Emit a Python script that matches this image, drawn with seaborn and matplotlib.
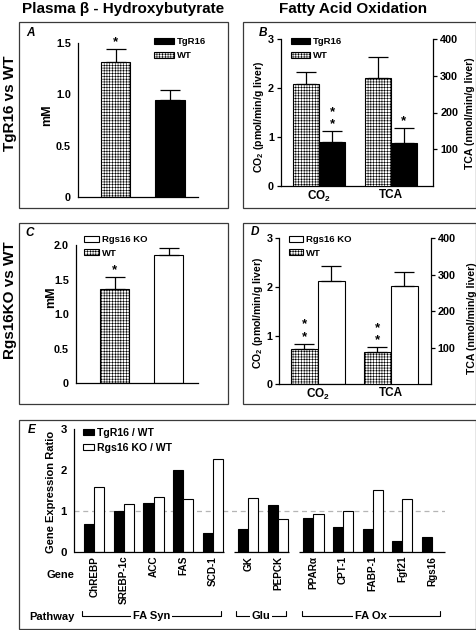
import numpy as np
import pandas as pd
import matplotlib
matplotlib.use("Agg")
import matplotlib.pyplot as plt
import matplotlib.transforms as mtransforms
from matplotlib.patches import Rectangle
import seaborn as sns

# ---------------- data ----------------
a_groups = ["WT", "TgR16"]
a_mean = [1.32, 0.95]
a_sem = [0.12, 0.09]
a_stars = [1, 0]
a_yticks = [0, 0.5, 1.0, 1.5]
a_yticklabels = ["0", "0.5", "1.0", "1.5"]

c_groups = ["WT", "Rgs16 KO"]
c_mean = [1.36, 1.86]
c_sem = [0.18, 0.10]
c_stars = [1, 0]
c_yticks = [0, 0.5, 1.0, 1.5, 2.0]
c_yticklabels = ["0", "0.5", "1.0", "1.5", "2.0"]

assays = ["CO2", "TCA"]
assay_labels = ["CO$_2$", "TCA"]
left_yticks = [0, 1, 2, 3]
right_yticks = [100, 200, 300, 400]

b_groups = ["WT", "TgR16"]
b_co2_mean = [2.08, 0.90]
b_co2_sem = [0.24, 0.22]
b_co2_stars = [0, 2]
b_tca_mean = [295, 118]
b_tca_sem = [55, 39]
b_tca_stars = [0, 1]

d_groups = ["WT", "Rgs16 KO"]
d_co2_mean = [0.73, 2.12]
d_co2_sem = [0.10, 0.32]
d_co2_stars = [2, 0]
d_tca_mean = [89, 268]
d_tca_sem = [12, 39]
d_tca_stars = [2, 0]

genes = ["ChREBP", "SREBP-1c", "ACC", "FAS", "SCD-1", "GK", "PEPCK",
         "PPARα", "CPT-1", "FABP-1", "Fgf21", "Rgs16"]
pathways = ["FA Syn"] * 5 + ["Glu"] * 2 + ["FA Ox"] * 5
pathway_order = ["FA Syn", "Glu", "FA Ox"]
tg_ratio = [0.69, 1.00, 1.19, 2.00, 0.47, 0.56, 1.15, 0.82, 0.60, 0.55, 0.27, 0.37]
ko_ratio = [1.58, 1.18, 1.34, 1.28, 2.26, 1.32, 0.79, 0.92, 0.99, 1.51, 1.29, np.nan]
e_series = ["TgR16 / WT", "Rgs16 KO / WT"]
e_yticks = [0, 1, 2, 3]

# ---------------- style ----------------
sns.set_theme(style="white")
plt.rcParams["font.family"] = ["Liberation Sans", "DejaVu Sans"]
plt.rcParams["mathtext.fontset"] = "custom"
plt.rcParams["mathtext.rm"] = "Liberation Sans:bold"
plt.rcParams["mathtext.bf"] = "Liberation Sans:bold"
plt.rcParams["mathtext.it"] = "Liberation Sans:bold:italic"
plt.rcParams["mathtext.default"] = "bf"
plt.rcParams["hatch.linewidth"] = 0.4
for k in ["text.color", "axes.labelcolor", "xtick.color", "ytick.color", "axes.edgecolor"]:
    plt.rcParams[k] = "black"

W, H = 477, 630
fig = plt.figure(figsize=(W / 100, H / 100), dpi=100)

HATCH = "++++++"
BAR_LW = 0.8
TICK_FS = 7.8
LEG_FS = 6.8


def fx(x):
    return x / W


def fy(y):
    return 1 - y / H


def px_axes(x0, x1, ytop, ybot):
    return fig.add_axes([x0 / W, 1 - ybot / H, (x1 - x0) / W, (ybot - ytop) / H])


def box(x0, x1, y0, y1):
    fig.patches.append(Rectangle((fx(x0), fy(y1)), (x1 - x0) / W, (y1 - y0) / H,
                                 transform=fig.transFigure, fill=False,
                                 lw=0.9, ec="#3a3a3a"))


def style_axis(ax, show_left=True, show_right=False, show_bottom=True, fs=TICK_FS):
    for s in ["top", "right", "left", "bottom"]:
        ax.spines[s].set_visible(False)
    ax.spines["left"].set_visible(show_left)
    ax.spines["right"].set_visible(show_right)
    ax.spines["bottom"].set_visible(show_bottom)
    for s in ax.spines.values():
        s.set_linewidth(0.9)
    ax.tick_params(axis="y", direction="out", length=3, width=0.9,
                   labelsize=fs, pad=2)
    ax.tick_params(axis="x", length=0, labelsize=fs, pad=2)
    for t in ax.get_yticklabels() + ax.get_xticklabels():
        t.set_fontweight("bold")
    ax.set_xlabel("")
    ax.set_ylabel("")
    ax.grid(False)
    ax.patch.set_visible(False)


def add_errbar(ax, bar, sem):
    xc = bar.get_x() + bar.get_width() / 2
    ax.errorbar([xc], [bar.get_height()], yerr=[[0], [sem]], fmt="none",
                ecolor="black", elinewidth=0.9, capsize=7, capthick=0.9, zorder=1)


def add_stars(ax, bar, sem, n):
    xc = bar.get_x() + bar.get_width() / 2
    for k in range(n):
        ax.annotate("*", xy=(xc, bar.get_height() + sem), xytext=(0, 5 + 9 * k),
                    textcoords="offset points", ha="center", va="center",
                    fontsize=9.5, fontweight="bold", annotation_clip=False)


def bars_by_order(ax, n_hue):
    """Return dict {(cat_index, hue_index): patch} from bar centers."""
    out = {}
    for p in ax.patches:
        h = p.get_height()
        if not np.isfinite(h):
            continue
        xc = p.get_x() + p.get_width() / 2
        ci = int(round(xc))
        hi = 0 if xc < ci or n_hue == 1 else 1
        out[(ci, hi)] = p
    return out


def legend(ax, handles, labels, x_px, ytop_px, hl, hh, fs=LEG_FS, spacing=0.5, tpad=0.35):
    ax.legend(handles, labels, loc="upper left",
              bbox_to_anchor=(fx(x_px), fy(ytop_px)), bbox_transform=fig.transFigure,
              frameon=False, borderpad=0, borderaxespad=0, handlelength=hl,
              handleheight=hh, handletextpad=tpad, labelspacing=spacing,
              prop=dict(size=fs, weight="bold"))


# ---------------- boxes & titles ----------------
box(19.3, 227.7, 22.3, 207.7)
box(243.3, 475.6, 22.3, 207.7)
box(19.3, 227.7, 222.7, 404)
box(243.3, 475.6, 222.7, 404)
box(19.3, 475.6, 420, 629.3)

fig.text(fx(123), fy(9), "Plasma β - Hydroxybutyrate", ha="center", va="center",
         fontsize=11, fontweight="bold")
fig.text(fx(353), fy(9), "Fatty Acid Oxidation", ha="center", va="center",
         fontsize=11, fontweight="bold")
fig.text(fx(10), fy(103), "TgR16 vs WT", rotation=90, ha="center", va="center",
         fontsize=11, fontweight="bold")
fig.text(fx(10), fy(300), "Rgs16KO vs WT", rotation=90, ha="center", va="center",
         fontsize=11, fontweight="bold")
for letter, (x, y) in {"A": (30, 33), "B": (263, 33), "C": (30, 233),
                       "D": (255, 232), "E": (32, 430)}.items():
    fig.text(fx(x), fy(y), letter, ha="center", va="center", fontsize=8.5,
             fontweight="bold", fontstyle="italic")


# ---------------- simple panels A & C ----------------
def simple_panel(ax, groups, means, sems, stars, palette, hatched, yticks, ylabels,
                 width, xlim):
    df = pd.DataFrame({"group": groups, "mean": means})
    sns.barplot(data=df, x="group", y="mean", hue="group", order=groups,
                hue_order=groups, palette=palette, width=width, dodge=False,
                edgecolor="black", linewidth=BAR_LW, saturation=1, errorbar=None,
                legend=False, ax=ax)
    bars = bars_by_order(ax, 1)
    for i, g in enumerate(groups):
        b = bars[(i, 0)]
        if g == hatched:
            b.set_hatch(HATCH)
        add_errbar(ax, b, sems[i])
        add_stars(ax, b, sems[i], stars[i])
    ax.set_ylim(yticks[0], yticks[-1])
    ax.set_xlim(*xlim)
    ax.set_yticks(yticks, labels=ylabels)
    ax.set_xticks([])
    style_axis(ax)
    return bars


axA = px_axes(77.7, 197.7, 43.3, 196.7)
barsA = simple_panel(axA, a_groups, a_mean, a_sem, a_stars,
                     {"WT": "white", "TgR16": "black"}, "WT", a_yticks,
                     a_yticklabels, 0.54, (-0.70, 1.51))
legend(axA, [barsA[(1, 0)], barsA[(0, 0)]], ["TgR16", "WT"], 154, 37.5, 2.1, 0.6)
fig.text(fx(47), fy(115), "mM", rotation=90, ha="center", va="center",
         fontsize=9, fontweight="bold")

axC = px_axes(76, 198, 245, 383.3)
barsC = simple_panel(axC, c_groups, c_mean, c_sem, c_stars,
                     {"WT": "white", "Rgs16 KO": "white"}, "WT", c_yticks,
                     c_yticklabels, 0.54, (-0.72, 1.54))
legend(axC, [barsC[(1, 0)], barsC[(0, 0)]], ["Rgs16 KO", "WT"], 84, 235, 1.6, 0.6)
fig.text(fx(51.5), fy(297), "mM", rotation=90, ha="center", va="center",
         fontsize=9, fontweight="bold")


# ---------------- twin panels B & D ----------------
def twin_panel(ax, groups, co2_m, co2_s, co2_st, tca_m, tca_s, tca_st, palette,
               width, xlim):
    ax2 = ax.twinx()
    df_c = pd.DataFrame({"assay": assays[0], "group": groups, "value": co2_m})
    df_t = pd.DataFrame({"assay": assays[1], "group": groups, "value": tca_m})
    kw = dict(x="assay", y="value", hue="group", order=assays, hue_order=groups,
              palette=palette, width=width, edgecolor="black", linewidth=BAR_LW,
              saturation=1, errorbar=None, legend=False)
    sns.barplot(data=df_c, ax=ax, **kw)
    sns.barplot(data=df_t, ax=ax2, **kw)
    bc = bars_by_order(ax, 2)
    bt = bars_by_order(ax2, 2)
    for i, g in enumerate(groups):
        if g == "WT":
            bc[(0, i)].set_hatch(HATCH)
            bt[(1, i)].set_hatch(HATCH)
        add_errbar(ax, bc[(0, i)], co2_s[i])
        add_stars(ax, bc[(0, i)], co2_s[i], co2_st[i])
        add_errbar(ax2, bt[(1, i)], tca_s[i])
        add_stars(ax2, bt[(1, i)], tca_s[i], tca_st[i])
    ax.set_ylim(left_yticks[0], left_yticks[-1])
    ax2.set_ylim(0, right_yticks[-1])
    ax.set_xlim(*xlim)
    ax.set_yticks(left_yticks, labels=[str(v) for v in left_yticks])
    ax2.set_yticks(right_yticks, labels=[str(v) for v in right_yticks])
    ax.set_xticks(range(len(assays)), labels=assay_labels)
    style_axis(ax)
    style_axis(ax2, show_left=False, show_right=True, show_bottom=False)
    ax2.tick_params(axis="y", right=True, left=False, labelright=True, labelleft=False)
    for t in ax.get_xticklabels():
        t.set_fontsize(8.5)
    return bc, ax2


axB = px_axes(281, 433.3, 39, 186)
bB, axB2 = twin_panel(axB, b_groups, b_co2_mean, b_co2_sem, b_co2_stars,
                      b_tca_mean, b_tca_sem, b_tca_stars,
                      {"WT": "white", "TgR16": "black"}, 0.72, (-0.53, 1.59))
legend(axB2, [bB[(0, 1)], bB[(0, 0)]], ["TgR16", "WT"], 291, 37.5, 2.0, 0.6)
fig.text(fx(259), fy(117), "CO$_2$ (pmol/min/g liver)", rotation=90, ha="center",
         va="center", fontsize=7.6, fontweight="bold")
fig.text(fx(470), fy(113), "TCA (nmol/min/g liver)", rotation=90, ha="center",
         va="center", fontsize=7.6, fontweight="bold")

axD = px_axes(279.3, 430.7, 238.3, 384.3)
bD, axD2 = twin_panel(axD, d_groups, d_co2_mean, d_co2_sem, d_co2_stars,
                      d_tca_mean, d_tca_sem, d_tca_stars,
                      {"WT": "white", "Rgs16 KO": "white"}, 0.74, (-0.53, 1.55))
legend(axD2, [bD[(0, 1)], bD[(0, 0)]], ["Rgs16 KO", "WT"], 289, 235, 1.5, 0.6)
fig.text(fx(258), fy(313), "CO$_2$ (pmol/min/g liver)", rotation=90, ha="center",
         va="center", fontsize=7.6, fontweight="bold")
fig.text(fx(472), fy(318), "TCA (nmol/min/g liver)", rotation=90, ha="center",
         va="center", fontsize=7.6, fontweight="bold")

# ---------------- panel E ----------------
GAP = 0.2
group_idx = [pathway_order.index(p) for p in pathways]
pos = [i + GAP * g for i, g in enumerate(group_idx)]

axE = px_axes(74, 445, 429.3, 551.7)
e_df = pd.DataFrame({
    "gene": genes * 2,
    "pos": pos * 2,
    "comparison": [e_series[0]] * len(genes) + [e_series[1]] * len(genes),
    "ratio": tg_ratio + ko_ratio,
}).dropna()
sns.barplot(data=e_df, x="pos", y="ratio", hue="comparison", hue_order=e_series,
            native_scale=True, width=0.68,
            palette={e_series[0]: "black", e_series[1]: "white"},
            edgecolor="black", linewidth=BAR_LW, saturation=1, errorbar=None,
            legend=False, ax=axE)
xl = (pos[0] - 0.685, pos[-1] + 0.44)
axE.set_xlim(*xl)
axE.set_ylim(e_yticks[0], e_yticks[-1])
axE.set_yticks(e_yticks, labels=[str(v) for v in e_yticks])
axE.axhline(1, color="#b5b5b5", lw=0.9, ls=(0, (4, 3)), zorder=0.5)
axE.set_xticks(pos, labels=genes)
style_axis(axE, show_bottom=False, fs=8.2)
axE.tick_params(axis="x", length=0, pad=3)
for t in axE.get_xticklabels():
    t.set_rotation(90)
    t.set_fontsize(7.2)
    t.set_fontweight("bold")
    t.set_va("top")

# broken baseline and pathway brackets
trans = mtransforms.blended_transform_factory(axE.transData, fig.transFigure)
yb, yt = fy(616), fy(610.5)
for gi, name in enumerate(pathway_order):
    ps = [p for p, pw in zip(pos, pathways) if pw == name]
    s0 = xl[0] if gi == 0 else min(ps) - 0.5
    s1 = xl[1] if gi == len(pathway_order) - 1 else max(ps) + 0.38
    axE.plot([s0, s1], [0, 0], color="black", lw=0.9, clip_on=False,
             solid_capstyle="butt")
    b0, b1 = min(ps) - 0.4, max(ps) + 0.28
    axE.plot([b0, b0, b1, b1], [yt, yb, yb, yt], transform=trans, color="black",
             lw=0.8, clip_on=False)
    axE.text((b0 + b1) / 2, yb, name, transform=trans, ha="center", va="center",
             fontsize=8, fontweight="bold",
             bbox=dict(facecolor="white", edgecolor="none", pad=1.2))

eb = {}
for p in axE.patches:
    eb.setdefault(p.get_facecolor()[0] < 0.5, p)
legend(axE, [eb[True], eb[False]], e_series, 82.7, 427.5, 1.1, 0.55, fs=7.6,
       spacing=0.5, tpad=0.25)

fig.text(fx(51.5), fy(492), "Gene Expression Ratio", rotation=90, ha="center",
         va="center", fontsize=8, fontweight="bold")
fig.text(fx(60), fy(575), "Gene", ha="center", va="center", fontsize=8,
         fontweight="bold")
fig.text(fx(51.7), fy(616.5), "Pathway", ha="center", va="center", fontsize=8,
         fontweight="bold")

fig.savefig("out.png", dpi=100)
